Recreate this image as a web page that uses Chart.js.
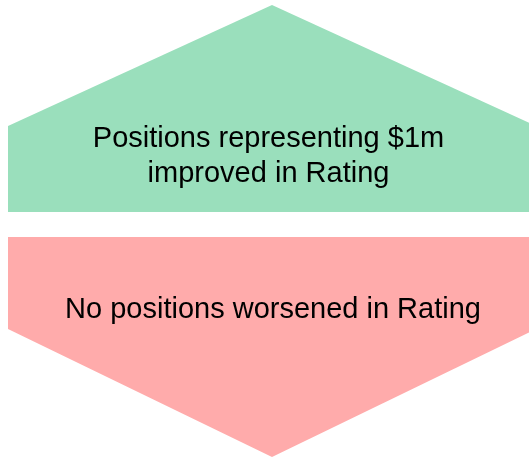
<!DOCTYPE html>
<html>
<head>
<meta charset="utf-8">
<script src="https://cdn.jsdelivr.net/npm/chart.js@4/dist/chart.umd.min.js"></script>
<style>
html,body{margin:0;padding:0;background:#fff;}
#wrap{width:529px;height:458px;}
</style>
</head>
<body>
<div id="wrap"><canvas id="c" width="529" height="458"></canvas></div>
<script>
// Shape outlines (vertex positions on a 0..529 x 0..458 plane, y downward)
const upArrowX = [8, 272, 536];
const upArrowY = [126, 5, 126];
const upArrowBase = 212;
const downArrowX = [8, 272, 536];
const downArrowY = [329, 457, 329];
const downArrowBase = 237;
// Texts
const upLabel = ["Positions representing $1m", "improved in Rating"];
const upLabelX = [268.5, 268.5];
const upLabelY = [147, 181.5];
const downLabel = ["No positions worsened in Rating"];
const downLabelX = [273];
const downLabelY = [317.5];

const toPts = (xs, ys) => xs.map((x, i) => ({x: x, y: ys[i]}));

const labelPlugin = {
  id: 'shapeLabels',
  afterDatasetsDraw(chart) {
    const ctx = chart.ctx;
    const xs = chart.scales.x, ys = chart.scales.y;
    ctx.save();
    ctx.fillStyle = '#000';
    ctx.font = '29px "Liberation Sans", Arial, sans-serif';
    ctx.textAlign = 'center';
    ctx.textBaseline = 'alphabetic';
    upLabel.forEach((t, i) => ctx.fillText(t, xs.getPixelForValue(upLabelX[i]), ys.getPixelForValue(upLabelY[i])));
    downLabel.forEach((t, i) => ctx.fillText(t, xs.getPixelForValue(downLabelX[i]), ys.getPixelForValue(downLabelY[i])));
    ctx.restore();
  }
};

new Chart(document.getElementById('c'), {
  type: 'scatter',
  data: {
    datasets: [
      {
        data: toPts(upArrowX, upArrowY),
        showLine: true,
        borderWidth: 0,
        borderColor: 'rgba(0,0,0,0)',
        backgroundColor: '#9ADFBC',
        pointRadius: 0,
        tension: 0,
        fill: {value: upArrowBase}
      },
      {
        data: toPts(downArrowX, downArrowY),
        showLine: true,
        borderWidth: 0,
        borderColor: 'rgba(0,0,0,0)',
        backgroundColor: '#FFABAB',
        pointRadius: 0,
        tension: 0,
        fill: {value: downArrowBase}
      }
    ]
  },
  options: {
    responsive: false,
    animation: false,
    layout: {padding: 0},
    plugins: {legend: {display: false}, tooltip: {enabled: false}},
    scales: {
      x: {type: 'linear', min: 0, max: 529, display: false},
      y: {type: 'linear', min: 0, max: 458, reverse: true, display: false}
    }
  },
  plugins: [labelPlugin]
});
</script>
</body>
</html>
